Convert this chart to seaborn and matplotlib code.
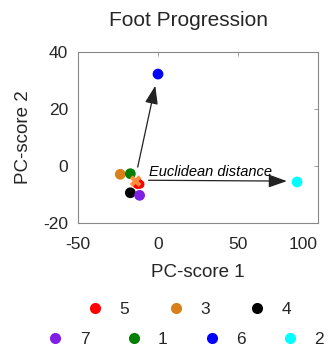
import matplotlib
matplotlib.use("Agg")
import matplotlib.pyplot as plt
import numpy as np
import pandas as pd
import seaborn as sns
from matplotlib.lines import Line2D

# PC scores per subject
subjects = ['5', '3', '4', '7', '1', '6', '2']
pc1 = [-12.7, -23.6, -17.3, -11.5, -17.3, 0.0, 87.0]
pc2 = [-6.2, -2.9, -9.4, -10.3, -2.7, 32.3, -5.6]
colors = ['#FF0000', '#D9801A', '#000000', '#7F1FE6', '#008000', '#0000FF', '#00FFFF']
centroid = (-14.0, -5.3)
arrow_tips = [(-1.7, 28.2), (80.6, -5.3)]
arrow_starts = [(-12.7, -0.4), (-5.9, -5.0)]

df = pd.DataFrame({'Subject': subjects, 'PC1': pc1, 'PC2': pc2})
palette = dict(zip(subjects, colors))

sns.set_style("white")
plt.rcParams['font.family'] = ['Liberation Sans', 'DejaVu Sans']
plt.rcParams['axes.unicode_minus'] = False

fig = plt.figure(figsize=(3.28, 3.5), dpi=100)
ax = fig.add_axes([0.238, 0.363, 0.731, 0.488])

# draw order so the cluster overlaps like the reference
order = ['3', '1', '5', '4', '7', '6', '2']
sns.scatterplot(data=df.set_index('Subject').loc[order].reset_index(), x='PC1', y='PC2',
                hue='Subject', palette=palette, s=60, edgecolor='none', legend=False, ax=ax, zorder=3)
ax.scatter([centroid[0]], [centroid[1]], marker='X', s=70, color='#FF8C3A', edgecolor='none', zorder=4)
red = df[df.Subject == '5']
ax.scatter(red.PC1 + 1.5, red.PC2 - 0.2, s=40, color='#FF0000', edgecolor='none', zorder=3.5)

for (x0, y0), (x1, y1) in zip(arrow_starts, arrow_tips):
    ax.annotate('', xy=(x1, y1), xytext=(x0, y0),
                arrowprops=dict(arrowstyle='-|>,head_length=0.7,head_width=0.25', color='#222222', lw=0.9,
                                mutation_scale=16, shrinkA=0, shrinkB=0), zorder=2)
ax.text(-5.5, -3.4, 'Euclidean distance', fontsize=10.5, style='italic', color='black')

ax.set_xlim(-50, 100)
ax.set_ylim(-20, 40)
ax.set_xticks([-50, 0, 50, 100])
ax.set_yticks([-20, 0, 20, 40])
ax.tick_params(direction='in', top=True, right=True, length=3, width=0.6,
               color='#888888', labelsize=12.5, pad=7)
ax.tick_params(axis='x', pad=10)
ax.get_xticklabels()[-1].set_horizontalalignment('right')
for sp in ax.spines.values():
    sp.set_color('#888888')
    sp.set_linewidth(0.8)
ax.set_xlabel('PC-score 1', fontsize=13.5, labelpad=9)
ax.set_ylabel('PC-score 2', fontsize=13.5, labelpad=8)
ax.set_title('Foot Progression', fontsize=15, pad=19, x=0.46)

def handle(c):
    return Line2D([], [], marker='o', linestyle='none', markersize=8,
                  markerfacecolor=c, markeredgecolor='none')

row1 = ['5', '3', '4']
row2 = ['7', '1', '6', '2']
leg1 = fig.legend([handle(palette[k]) for k in row1], row1, ncol=3, loc='center',
                  bbox_to_anchor=(0.575, 0.117), frameon=False, fontsize=12.5,
                  columnspacing=2.2, handletextpad=0.9, handlelength=1.0)
leg2 = fig.legend([handle(palette[k]) for k in row2], row2, ncol=4, loc='center',
                  bbox_to_anchor=(0.565, 0.029), frameon=False, fontsize=12.5,
                  columnspacing=2.05, handletextpad=0.9, handlelength=1.0)

fig.savefig('out.png', dpi=100)
